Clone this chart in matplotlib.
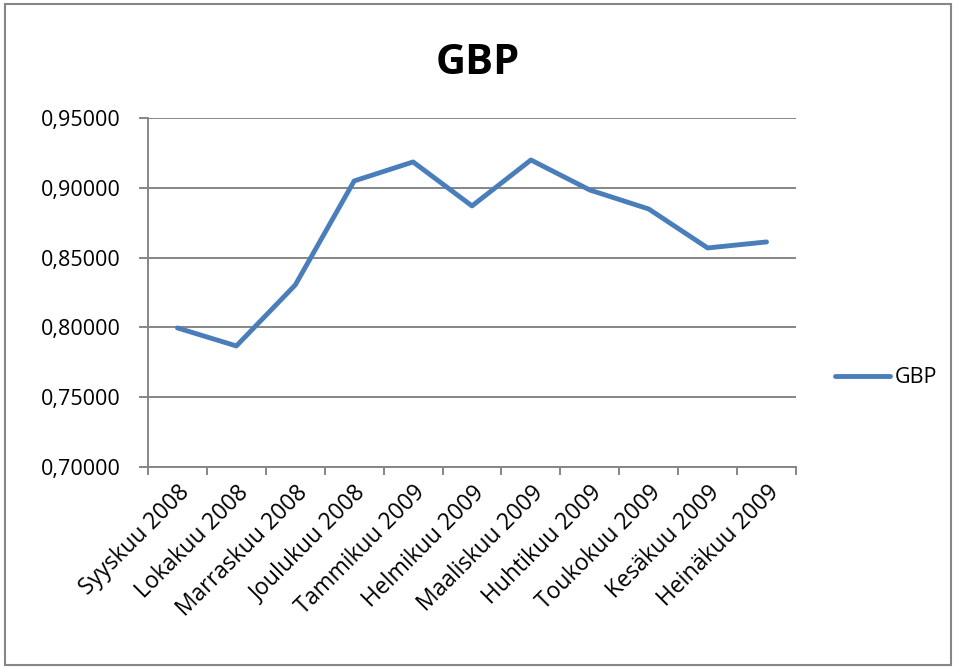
import matplotlib.pyplot as plt
from matplotlib.patches import Rectangle
from matplotlib.ticker import FuncFormatter

plt.rcParams['font.family'] = ['Open Sans', 'DejaVu Sans']

months = ['Syyskuu 2008', 'Lokakuu 2008', 'Marraskuu 2008', 'Joulukuu 2008',
          'Tammikuu 2009', 'Helmikuu 2009', 'Maaliskuu 2009', 'Huhtikuu 2009',
          'Toukokuu 2009', 'Kesäkuu 2009', 'Heinäkuu 2009']
gbp = [0.7996, 0.7867, 0.8304, 0.9049, 0.9185, 0.8870,
       0.9199, 0.8984, 0.8848, 0.8569, 0.8612]

grey = '#868686'
blue = '#4A7EBB'

fig = plt.figure(figsize=(9.55, 6.68), dpi=100)
ax = fig.add_axes([0.155, 0.3009, 0.6785, 0.5225])

x = list(range(len(months)))
ax.plot(x, gbp, color=blue, linewidth=3.5, label='GBP', solid_capstyle='round')

ax.set_xlim(-0.5, len(months) - 0.5)
ax.set_ylim(0.70, 0.95)
ax.set_yticks([0.70, 0.75, 0.80, 0.85, 0.90, 0.95])
ax.yaxis.set_major_formatter(FuncFormatter(lambda v, p: f'{v:.5f}'.replace('.', ',')))
ax.grid(axis='y', color=grey, linewidth=1.4)
ax.set_axisbelow(True)

ax.set_xticks(x)
ax.set_xticklabels(months, rotation=45, ha='right', rotation_mode='anchor')
ax.set_xticks([i + 0.5 for i in range(-1, len(months))], minor=True)
ax.tick_params(axis='x', which='major', length=0, labelsize=16.5, pad=10)
ax.tick_params(axis='x', which='minor', length=6, color=grey, width=1.4)
ax.tick_params(axis='y', length=6.5, color=grey, width=1.4, labelsize=15.5, pad=13)

for s in ['top', 'right']:
    ax.spines[s].set_visible(False)
for s in ['left', 'bottom']:
    ax.spines[s].set_color(grey)
    ax.spines[s].set_linewidth(1.4)

fig.suptitle('GBP', fontsize=30, fontweight='bold', y=0.905, va='center')

ax.legend(loc='center left', bbox_to_anchor=(1.06, 0.255), frameon=False,
          fontsize=15.5, handlelength=2.56, handletextpad=0.23,
          borderpad=0, borderaxespad=0)

fig.patches.append(Rectangle((0.005, 0.004), 0.991, 0.99, transform=fig.transFigure,
                             fill=False, edgecolor=grey, linewidth=1.5))

fig.savefig('out.png', dpi=100)
